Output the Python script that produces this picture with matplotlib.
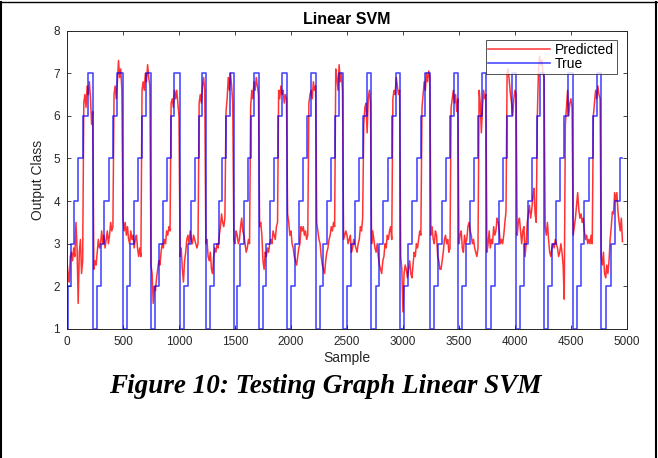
import matplotlib
matplotlib.use("Agg")
import matplotlib.pyplot as plt
import numpy as np
from matplotlib.lines import Line2D

plt.rcParams["font.family"] = ["Liberation Sans", "DejaVu Sans"]

# start sample of each true class (1, 2, 3, ...) within every cycle
TRUE_CYCLES = [
    [0, 6, 36, 66, 98, 140, 185],
    [232, 268, 302, 334, 372, 410, 448],
    [500, 536, 566, 601, 631, 670, 708],
    [750, 789, 819, 854, 893, 929, 958],
    [1006, 1042, 1077, 1107, 1146, 1176, 1205],
    [1238, 1280, 1310, 1354, 1384, 1420, 1452],
    [1488, 1518, 1548, 1583, 1614, 1640, 1670],
    [1712, 1748, 1780, 1814, 1850, 1886, 1922],
    [1962, 1998, 2034, 2068, 2106, 2144, 2182],
    [2221, 2257, 2290, 2325, 2360, 2394, 2430],
    [2468, 2504, 2538, 2572, 2608, 2644, 2680],
    [2719, 2756, 2790, 2826, 2862, 2898, 2934],
    [2971, 3010, 3046, 3084, 3124, 3162, 3200],
    [3243, 3279, 3313, 3347, 3383, 3419, 3455],
    [3492, 3528, 3562, 3598, 3634, 3670, 3706],
    [3743, 3782, 3819, 3856, 3894, 3932, 3970],
    [4011, 4048, 4084, 4119, 4156, 4193, 4228],
    [4263, 4299, 4334, 4369, 4405, 4441, 4478],
    [4516, 4552, 4586, 4621, 4657, 4693, 4730],
    [4768, 4815, 4855, 4895, 4935],
]
TRUE_END = 4960

# predicted class, one value every PRED_STEP samples (one row per cycle)
PRED_STEP = 10
PRED_VALUES = [
    2.6, 2.3, 2.1, 2.7, 2.8, 2.6, 2.9, 2.7, 3.5, 2.9, 1.6, 2.8, 3.1, 2.3, 2.6, 6.3, 6.5, 6.2, 6.7, 6.5, 6.8, 6.4, 5.8, 6.1,
    2.4, 2.6, 2.5, 2.8, 3.1, 2.9, 3.0, 3.3, 3.0, 3.2, 2.9, 3.1, 3.3, 3.0, 3.2, 3.5, 3.3, 3.4, 6.5, 6.7, 6.4, 6.8, 7.3, 6.9, 7.1, 6.6,
    3.6, 3.3, 3.5, 3.2, 3.4, 3.1, 3.0, 3.3, 3.1, 3.2, 2.9, 3.1, 3.2, 2.9, 2.7, 2.9, 2.7, 6.6, 6.8, 6.6, 7.0, 6.8, 7.2, 6.9, 6.7,
    2.5, 2.3, 1.6, 2.0, 1.9, 2.2, 2.4, 2.6, 2.5, 2.8, 3.0, 2.9, 3.1, 3.0, 3.3, 3.2, 3.4, 3.3, 6.3, 6.4, 6.2, 6.6, 6.4, 6.6, 6.3, 6.0,
    2.7, 2.9, 2.4, 2.1, 2.6, 2.8, 3.1, 3.2, 3.0, 3.3, 3.1, 3.0, 3.2, 3.1, 3.0, 2.9, 3.0, 6.3, 6.5, 6.3, 6.7, 6.9, 6.6,
    3.0, 3.1, 2.7, 2.6, 2.8, 2.4, 2.3, 2.7, 2.9, 2.8, 3.0, 2.9, 3.2, 3.4, 3.7, 3.5, 3.4, 3.6, 6.1, 6.4, 6.9, 6.6, 7.0, 6.7, 6.3,
    3.1, 3.0, 3.3, 3.2, 3.0, 3.1, 3.4, 3.6, 3.3, 3.2, 3.0, 2.8, 2.9, 3.1, 3.0, 6.2, 6.6, 6.4, 6.8, 6.6, 6.9, 6.7,
    6.5, 3.4, 3.5, 3.2, 2.6, 2.4, 2.8, 2.7, 2.9, 2.8, 3.0, 3.1, 3.0, 3.3, 3.2, 3.1, 3.4, 3.5, 6.6, 6.4, 6.7, 6.5, 6.6, 6.3, 6.5, 6.4,
    3.7, 3.5, 3.2, 3.3, 3.0, 2.9, 2.7, 2.6, 2.5, 2.7, 2.9, 3.0, 3.4, 3.3, 3.4, 3.2, 3.3, 3.1, 3.2, 6.3, 6.5, 6.6, 6.4, 6.8, 6.6, 6.7,
    3.5, 3.3, 3.1, 3.0, 2.7, 2.5, 2.4, 2.3, 2.6, 2.8, 2.9, 3.1, 3.2, 3.4, 3.3, 3.5, 3.4, 7.1, 6.9, 6.6, 7.2, 6.8, 7.0, 6.6,
    3.1, 3.2, 3.3, 3.2, 3.0, 3.1, 3.2, 2.8, 2.9, 3.1, 3.0, 2.9, 2.8, 3.0, 3.1, 3.4, 3.3, 3.6, 5.8, 6.2, 6.3, 5.6, 6.4, 6.6, 6.3,
    3.0, 3.3, 3.1, 2.9, 2.8, 3.0, 2.7, 2.5, 2.4, 2.3, 2.6, 2.7, 3.0, 2.9, 3.2, 3.1, 3.3, 3.4, 3.1, 6.4, 6.6, 6.5, 6.9, 6.7, 6.5, 6.6,
    2.7, 2.4, 1.4, 2.3, 2.5, 2.4, 2.2, 2.4, 2.6, 2.3, 2.2, 2.5, 2.8, 2.7, 3.0, 2.9, 3.1, 3.3, 3.2, 6.2, 6.5, 6.8, 6.6, 7.0, 6.8, 7.05, 6.9,
    3.2, 3.4, 3.1, 3.0, 3.3, 3.2, 2.7, 2.6, 2.4, 2.4, 2.6, 2.8, 3.1, 3.2, 3.0, 3.1, 2.8, 2.9, 6.2, 6.4, 6.6, 6.3, 6.5, 6.1, 6.4,
    3.0, 3.2, 3.3, 2.9, 2.8, 3.2, 3.0, 3.1, 3.4, 3.5, 3.3, 3.2, 3.0, 3.1, 2.9, 2.8, 2.7, 2.9, 6.6, 6.3, 5.6, 6.2, 6.6, 6.4, 6.5,
    2.8, 3.0, 3.3, 2.9, 3.1, 3.0, 3.4, 3.2, 3.3, 3.6, 3.5, 3.3, 3.0, 3.1, 3.0, 3.2, 3.5, 3.75, 7.0, 7.1, 6.8, 6.5, 6.3, 6.0, 6.4, 6.6, 6.5,
    3.2, 3.5, 3.6, 3.3, 3.0, 3.3, 3.4, 2.7, 3.0, 3.5, 3.7, 3.9, 3.6, 3.8, 4.1, 4.3, 3.7, 3.5, 6.0, 7.1, 7.4, 7.2, 7.3, 7.0, 6.9,
    3.4, 3.2, 3.5, 3.1, 2.8, 2.7, 2.9, 3.0, 2.9, 3.1, 3.0, 2.9, 2.7, 2.8, 3.0, 2.8, 2.5, 1.7, 5.8, 6.2, 6.6, 6.0, 6.3, 6.4, 6.2,
    3.2, 3.4, 3.6, 3.9, 4.2, 3.8, 3.6, 3.7, 3.5, 3.6, 3.3, 3.1, 3.2, 3.0, 3.1, 3.0, 3.2, 3.0, 6.0, 6.3, 6.6, 6.4, 6.7, 6.5, 6.4,
    2.7, 2.5, 2.8, 2.3, 2.2, 2.5, 2.3, 2.6, 3.1, 3.4, 3.75, 3.7, 4.2, 4.0, 4.2, 3.75, 3.5, 3.3, 3.6, 3.05,
]

X_TICKS = list(range(0, 5001, 500))
Y_TICKS = [1, 2, 3, 4, 5, 6, 7, 8]

# flatten the cycles into a step trace
true_x, true_y = [], []
for cycle in TRUE_CYCLES:
    for k, start in enumerate(cycle):
        true_x.append(start)
        true_y.append(k + 1)
true_x.append(TRUE_END)
true_y.append(true_y[-1])

pred_x = np.arange(len(PRED_VALUES)) * PRED_STEP

fig = plt.figure(figsize=(6.58, 4.58), dpi=100)
ax = fig.add_axes([0.1018, 0.2817, 0.851, 0.6515])

ax.plot(pred_x, PRED_VALUES, color="#ff0000", linewidth=1.1, alpha=0.8, label="Predicted")
ax.step(true_x, true_y, where="post", color="#0000ff", linewidth=1.2, alpha=0.7, label="True")

ax.set_xlim(0, 5000)
ax.set_ylim(1, 8)
ax.set_xticks(X_TICKS)
ax.set_yticks(Y_TICKS)
ax.tick_params(direction="in", length=3, top=True, right=True, labelsize=8.5,
               colors="#262626", width=0.6, pad=5)
for spine in ax.spines.values():
    spine.set_color("#262626")
    spine.set_linewidth(0.7)

ax.set_title("Linear SVM", fontsize=11.5, fontweight="bold", pad=5)
ax.set_xlabel("Sample", fontsize=10, color="#262626", labelpad=2)
ax.set_ylabel("Output Class", fontsize=10, color="#262626", labelpad=6)

leg = ax.legend(loc="upper right", bbox_to_anchor=(0.982, 0.968), borderaxespad=0,
                fontsize=10, frameon=True, fancybox=False, handlelength=4.4,
                labelspacing=0.0, borderpad=0.2, handletextpad=0.4)
leg.get_frame().set_edgecolor("#262626")
leg.get_frame().set_linewidth(0.7)

fig.text(0.495, 0.157, "Figure 10: Testing Graph Linear SVM", ha="center", va="center",
         family="Liberation Serif", fontweight="bold", fontstyle="italic", fontsize=19.5)

# page border around the figure
fig.add_artist(Line2D([0.002, 0.002], [0, 0.996], transform=fig.transFigure, color="black", linewidth=1.5))
fig.add_artist(Line2D([0.997, 0.997], [0, 0.996], transform=fig.transFigure, color="black", linewidth=1.5))
fig.add_artist(Line2D([0, 1], [0.995, 0.995], transform=fig.transFigure, color="black", linewidth=1.0))

fig.savefig("out.png", dpi=100)
